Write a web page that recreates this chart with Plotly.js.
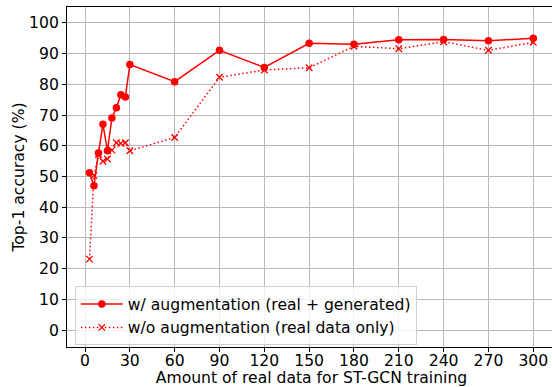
<!DOCTYPE html>
<html><head><meta charset="utf-8">
<script src="https://cdn.plot.ly/plotly-3.0.1.min.js"></script>
<style>html,body{margin:0;padding:0;overflow:hidden;background:#fff;width:552px;height:387px}</style>
</head><body><div id="chart" style="width:556px;height:387px"></div>
<script>
const amountReal = [3, 6, 9, 12, 15, 18, 21, 24, 27, 30, 60, 90, 120, 150, 180, 210, 240, 270, 300];
const withAug = [51.2, 47.0, 57.7, 67.0, 58.4, 69.1, 72.4, 76.6, 75.9, 86.5, 80.9, 91.1, 85.5, 93.4, 93.1, 94.5, 94.6, 94.2, 95.0];
const withoutAug = [23.1, 50.3, 57.2, 55.0, 55.7, 58.6, 61.0, 60.8, 61.0, 58.4, 62.7, 82.3, 84.7, 85.4, 92.4, 91.6, 93.9, 91.1, 93.7];
const xTicks = [0, 30, 60, 90, 120, 150, 180, 210, 240, 270, 300];
const yTicks = [0, 10, 20, 30, 40, 50, 60, 70, 80, 90, 100];
const seriesNames = ['w/ augmentation (real + generated)', 'w/o augmentation (real data only)'];

const font = {family: 'DejaVu Sans', size: 15.6, color: '#000'};
const traces = [
  {x: amountReal, y: withAug, name: seriesNames[0], type: 'scatter', mode: 'lines+markers',
   line: {color: '#ff0000', width: 1.5}, marker: {symbol: 'circle', size: 7.5, color: '#ff0000'}},
  {x: amountReal, y: withoutAug, name: seriesNames[1], type: 'scatter', mode: 'lines+markers',
   line: {color: '#ff0000', width: 1.5, dash: '1.5px,2.5px'}, marker: {symbol: 'x-thin', size: 6.5, line: {color: '#ff0000', width: 1.3}, color: '#ff0000'}}
];
const axisCommon = {showline: true, linecolor: '#000', linewidth: 1, mirror: true, ticks: 'outside', ticklen: 4, tickcolor: '#000',
  showgrid: true, gridcolor: '#b8b8b8', gridwidth: 1, zeroline: false, tickfont: font, automargin: false};
const layout = {
  width: 556, height: 387,
  margin: {l: 67, r: 0, t: 7, b: 40},
  paper_bgcolor: '#fff', plot_bgcolor: '#fff',
  font: font,
  showlegend: true,
  legend: {x: 0.016, y: 0.178, xanchor: 'left', yanchor: 'top', bgcolor: 'rgba(255,255,255,0.8)', bordercolor: '#d0d0d0', borderwidth: 1,
    font: font, itemwidth: 42, tracegroupgap: 0},
  xaxis: Object.assign({}, axisCommon, {range: [-12.05, 315.2], tickvals: xTicks, ticktext: xTicks.map(String), ticklabelstandoff: -5,
    title: {text: 'Amount of real data for ST-GCN training', font: font, standoff: 0}}),
  yaxis: Object.assign({}, axisCommon, {range: [-5.5, 105.2], tickvals: yTicks, ticktext: yTicks.map(String),
    title: {text: 'Top-1 accuracy (%)', font: font, standoff: 0}})
};
Plotly.newPlot('chart', traces, layout, {displayModeBar: false, staticPlot: true});
</script></body></html>
